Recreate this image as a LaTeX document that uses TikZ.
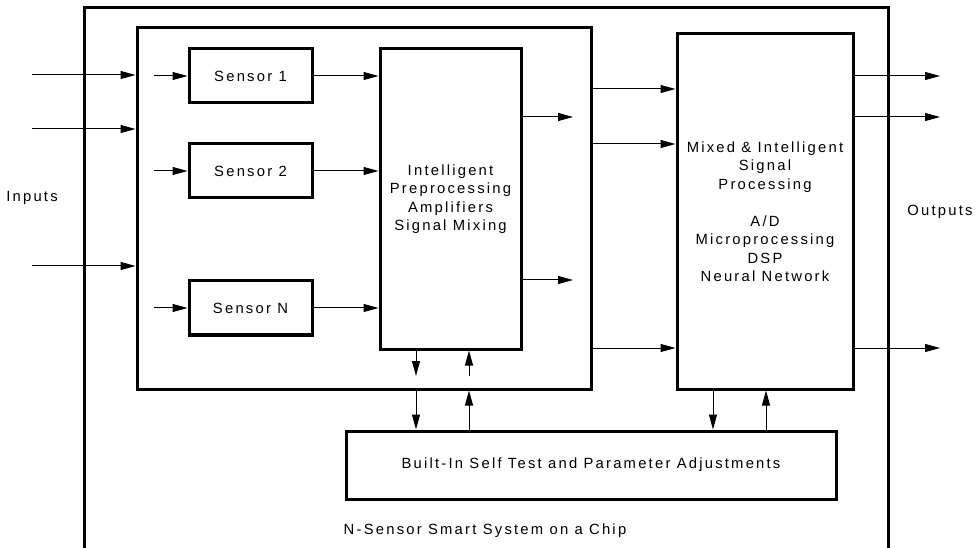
\documentclass[tikz,border=0pt]{standalone}
\usepackage{fontspec}
\setmainfont{Liberation Sans}[LetterSpace=15]
\usetikzlibrary{arrows.meta}

\begin{document}
\begin{tikzpicture}[x=1pt,y=-1pt]
\tikzstyle{every node}=[font=\fontsize{14.8}{18.5}\selectfont]
\tikzstyle{block}=[draw,line width=3pt,align=center,inner sep=0pt]
\tikzstyle{sig}=[line width=1pt,-{Triangle[length=15pt,width=8pt]}]
\useasboundingbox (0,0) rectangle (978,548);
% chip frame, open at the bottom
\draw[line width=3pt] (84,548) -- (84,8) -- (888,8) -- (888,548);
\node (chip) at (485,531) {N-Sensor Smart System on a Chip};
\node (inputs) at (32,198) {Inputs};
\node (outputs) at (940,212) {Outputs};

% blocks
\node[block,minimum width=454pt,minimum height=361pt] (front) at (364,208.5) {};
\node[block,minimum width=123pt,minimum height=54pt] (s1) at (250.5,76) {Sensor 1};
\node[block,minimum width=123pt,minimum height=54pt] (s2) at (250.5,171) {Sensor 2};
\node[block,minimum width=123pt,minimum height=54pt] (sN) at (250.5,308) {Sensor N};
\node[block,minimum width=141pt,minimum height=300pt] (pre) at (450.5,199)
  {Intelligent\\Preprocessing\\Amplifiers\\Signal Mixing};
\node[block,minimum width=176pt,minimum height=355pt] (mix) at (765,211.5)
  {Mixed \& Intelligent\\Signal\\Processing\\[18.5pt]A/D\\Microprocessing\\DSP\\Neural Network};
\node[block,minimum width=490pt,minimum height=68pt] (bist) at (591,465)
  {Built-In Self Test and Parameter Adjustments};

% free ends and levels
\coordinate (in1) at (32,75);
\coordinate (in2) at (32,129);
\coordinate (in3) at (32,266);
\coordinate (f1) at (154,76);
\coordinate (f2) at (154,171);
\coordinate (f3) at (154,308);
\coordinate (p1) at (573,117);
\coordinate (p2) at (573,280);
\coordinate (l1) at (0,89);
\coordinate (l2) at (0,144);
\coordinate (l3) at (0,348);
\coordinate (o1) at (940,76);
\coordinate (o2) at (940,117);
\coordinate (o3) at (940,348);
\coordinate (t1) at (416,376);
\coordinate (t2) at (469,376);
\coordinate (t3) at (713,410);
\coordinate (t4) at (766,410);

% inputs
\draw[sig] (in1) -- (in1 -| front.west);
\draw[sig] (in2) -- (in2 -| front.west);
\draw[sig] (in3) -- (in3 -| front.west);
\draw[sig] (f1) -- (s1.west);
\draw[sig] (f2) -- (s2.west);
\draw[sig] (f3) -- (sN.west);
\draw[sig] (s1.east) -- (s1.east -| pre.west);
\draw[sig] (s2.east) -- (s2.east -| pre.west);
\draw[sig] (sN.east) -- (sN.east -| pre.west);
\draw[sig] (p1 -| pre.east) -- (p1);
\draw[sig] (p2 -| pre.east) -- (p2);

% front end to processing
\draw[sig] (front.east |- l1) -- (mix.west |- l1);
\draw[sig] (front.east |- l2) -- (mix.west |- l2);
\draw[sig] (front.east |- l3) -- (mix.west |- l3);

% outputs
\draw[sig] (o1 -| mix.east) -- (o1);
\draw[sig] (o2 -| mix.east) -- (o2);
\draw[sig] (o3 -| mix.east) -- (o3);

% self test loops
\draw[sig] (t1 |- pre.south) -- (t1);
\draw[sig] (t2) -- (t2 |- pre.south);
\draw[sig] (t1 |- front.south) -- (t1 |- bist.north);
\draw[sig] (t2 |- bist.north) -- (t2 |- front.south);
\draw[sig] (t3 |- mix.south) -- (t3 |- bist.north);
\draw[sig] (t4 |- bist.north) -- (t4 |- mix.south);

\end{tikzpicture}
\end{document}
